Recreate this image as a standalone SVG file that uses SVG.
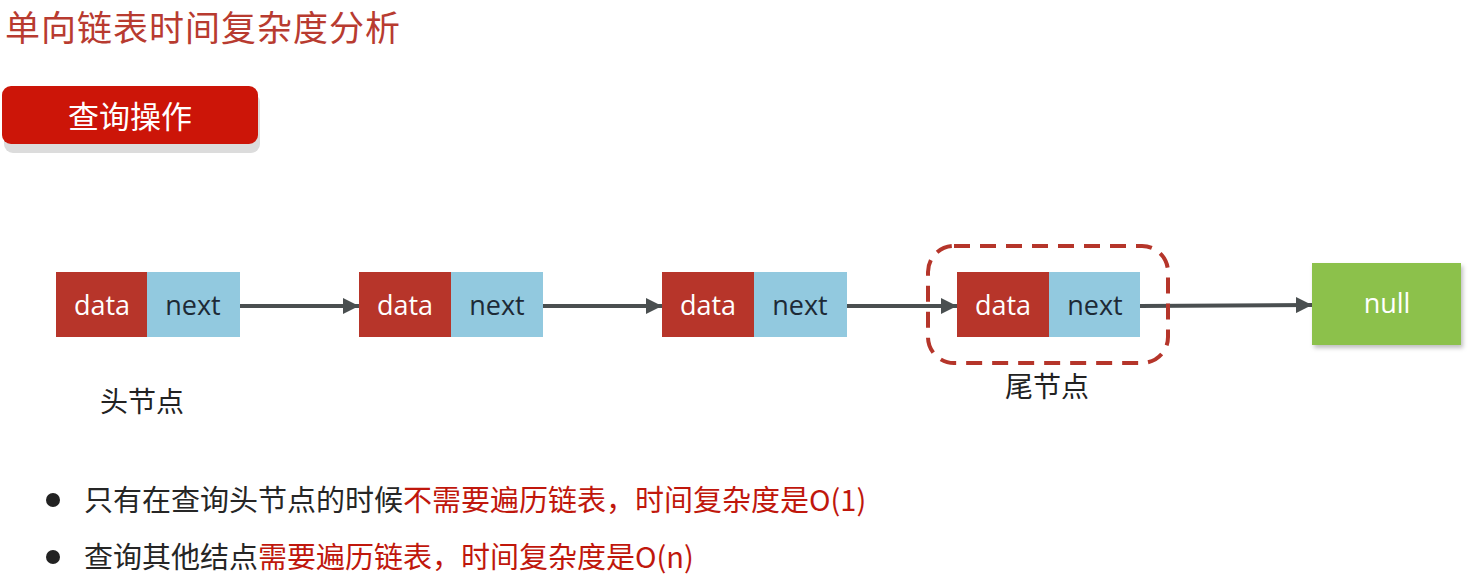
<svg xmlns="http://www.w3.org/2000/svg" width="1478" height="574" viewBox="0 0 1478 574">
<style>
.cjk{font-family:"Noto Sans CJK SC","Noto Sans",sans-serif}
.lat{font-family:"Open Sans","Noto Sans",sans-serif}
.data{fill:#b7352a}
.next{fill:#92c9df}
.dt{fill:#ffffff;font-size:27px;text-anchor:middle}
.nt{fill:#1d2a36;font-size:27px;text-anchor:middle}
.conn{stroke:#4a4f50;stroke-width:4;fill:none;marker-end:url(#ah)}
.red{fill:#c0170c}
</style>
<defs>
<marker id="ah" viewBox="0 0 10 10" refX="10" refY="5" markerWidth="4" markerHeight="4" orient="auto" markerUnits="strokeWidth">
<path d="M0,0 L10,5 L0,10 z" fill="#4a4f50"/>
</marker>
<filter id="sh" x="-10%" y="-10%" width="130%" height="140%">
<feDropShadow dx="2" dy="3" stdDeviation="2" flood-color="#000" flood-opacity="0.25"/>
</filter>
</defs>
<rect width="1478" height="574" fill="#ffffff"/>
<text x="5" y="41" class="cjk" font-size="35" fill="#b83b30" textLength="395">单向链表时间复杂度分析</text>
<g id="btn">
<rect x="4" y="93" width="256" height="60" rx="9" fill="#dcdcdc"/>
<rect x="2" y="86" width="256" height="58" rx="9" fill="#cc1508"/>
<text x="130" y="128" class="cjk" font-size="31" fill="#ffffff" text-anchor="middle">查询操作</text>
</g>
<g id="connectors">
<line x1="240" y1="306" x2="359" y2="306" class="conn"/>
<line x1="543" y1="306" x2="662" y2="306" class="conn"/>
<line x1="847" y1="306" x2="957" y2="306" class="conn"/>
<line x1="1140" y1="306" x2="1312" y2="305" class="conn"/>
</g>
<g id="node1">
<rect x="56" y="272" width="92" height="65" class="data"/>
<rect x="147" y="272" width="93" height="65" class="next"/>
<text x="102" y="315" class="lat dt">data</text>
<text x="193" y="315" class="lat nt">next</text>
</g>
<g id="node2">
<rect x="359" y="272" width="92" height="65" class="data"/>
<rect x="451" y="272" width="92" height="65" class="next"/>
<text x="405" y="315" class="lat dt">data</text>
<text x="497" y="315" class="lat nt">next</text>
</g>
<g id="node3">
<rect x="662" y="272" width="92" height="65" class="data"/>
<rect x="754" y="272" width="93" height="65" class="next"/>
<text x="708" y="315" class="lat dt">data</text>
<text x="800" y="315" class="lat nt">next</text>
</g>
<g id="node4">
<rect x="957" y="272" width="92" height="65" class="data"/>
<rect x="1049" y="272" width="91" height="65" class="next"/>
<text x="1003" y="315" class="lat dt">data</text>
<text x="1095" y="315" class="lat nt">next</text>
</g>
<g id="tailbox">
<rect x="928" y="246" width="240" height="117" rx="26" fill="none" stroke="#b5352a" stroke-width="4" stroke-dasharray="16 10"/>
</g>
<g id="null">
<rect x="1312" y="263" width="149" height="82" fill="#8cc14c" filter="url(#sh)"/>
<text x="1387" y="313" class="lat" font-size="27" fill="#ffffff" text-anchor="middle">null</text>
</g>
<text x="142" y="412" class="cjk" font-size="28" fill="#222222" text-anchor="middle">头节点</text>
<text x="1047" y="397" class="cjk" font-size="28" fill="#222222" text-anchor="middle">尾节点</text>
<g id="bullets">
<circle cx="53" cy="500" r="7" fill="#222222"/>
<circle cx="53" cy="557" r="7" fill="#222222"/>
<text x="84" y="511" class="cjk" font-size="29" fill="#262626">只有在查询头节点的时候<tspan class="red">不需要遍历链表，时间复杂度是O(1)</tspan></text>
<text x="84" y="568" class="cjk" font-size="29" fill="#262626">查询其他结点<tspan class="red">需要遍历链表，时间复杂度是O(n)</tspan></text>
</g>
</svg>
